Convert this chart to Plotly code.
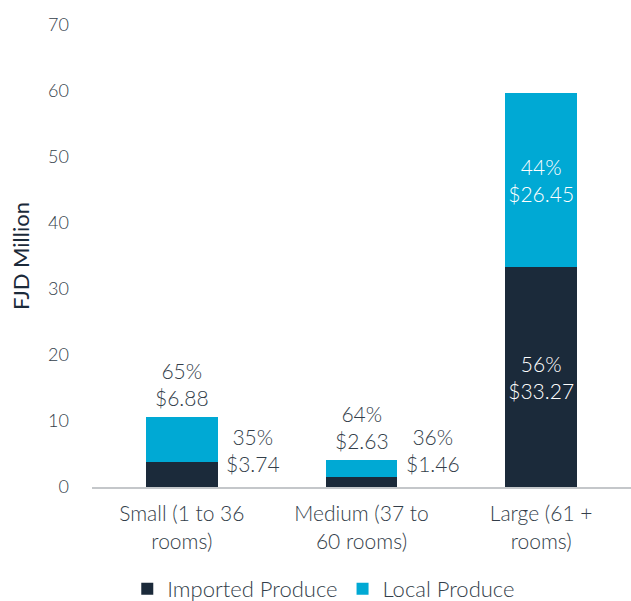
import plotly.graph_objects as go

categories = ["Small (1 to 36<br>rooms)", "Medium (37 to<br>60 rooms)", "Large (61 +<br>rooms)"]
imported = [3.74, 1.46, 33.27]
local = [6.88, 2.63, 26.45]
y_ticks = [0, 10, 20, 30, 40, 50, 60, 70]

DARK = "#1b2a3a"
CYAN = "#00a9d4"
TEXT = "#333e4a"
FONT = "Lato"
W = 300  # light weight

totals = [a + b for a, b in zip(imported, local)]
imp_pct = [round(a / t * 100) for a, t in zip(imported, totals)]
loc_pct = [round(b / t * 100) for b, t in zip(local, totals)]

def label(p, v):
    return f"{p}%<br>${v:.2f}"

# Only the large bar holds its labels inside; the smaller bars get annotations.
imp_text = ["", "", label(imp_pct[2], imported[2])]
loc_text = ["", "", label(loc_pct[2], local[2])]

inside_font = dict(color="white", size=21, family=FONT, weight=W)

fig = go.Figure()
fig.add_trace(go.Bar(
    x=categories, y=imported, name="Imported Produce",
    marker=dict(color=DARK, line=dict(width=0)),
    text=imp_text, textposition="inside", insidetextanchor="middle",
    textangle=0, insidetextfont=inside_font, hoverinfo="skip",
))
fig.add_trace(go.Bar(
    x=categories, y=local, name="Local Produce",
    marker=dict(color=CYAN, line=dict(width=0)),
    text=loc_text, textposition="inside", insidetextanchor="middle",
    textangle=0, insidetextfont=inside_font, hoverinfo="skip",
))

ann_font = dict(size=21, color=TEXT, family=FONT, weight=W)
for i in range(2):
    # local share above the bar
    fig.add_annotation(
        x=categories[i], y=totals[i], yanchor="bottom", yshift=5,
        text=label(loc_pct[i], local[i]), showarrow=False, font=ann_font,
    )
    # imported share to the right of the bar
    fig.add_annotation(
        x=categories[i], y=0, yanchor="bottom", yshift=9, xshift=71,
        text=label(imp_pct[i], imported[i]), showarrow=False, font=ann_font,
    )

fig.update_layout(
    barmode="stack",
    bargap=0.6,
    width=631, height=601,
    margin=dict(l=92, r=0, t=25, b=114, autoexpand=False),
    paper_bgcolor="white", plot_bgcolor="white",
    font=dict(family=FONT, color=TEXT, size=21, weight=W),
    showlegend=True,
    legend=dict(
        orientation="h", x=0.43, xanchor="center",
        yref="container", y=0.02, yanchor="middle",
        font=dict(size=22, color=TEXT, family=FONT, weight=W),
        traceorder="normal",
    ),
    xaxis=dict(
        showline=True, linecolor="#c4c7ca", linewidth=2,
        ticks="", ticklabelstandoff=7,
        tickfont=dict(size=21, color=TEXT, family=FONT, weight=W),
    ),
    yaxis=dict(
        range=[0, 70], tickvals=y_ticks, showgrid=False, zeroline=False,
        showline=False, ticks="", ticklabelstandoff=22,
        tickfont=dict(size=18, color=TEXT, family=FONT, weight=W),
        title=dict(text="FJD Million", font=dict(size=22, color=DARK, family=FONT, weight=400), standoff=12),
    ),
)

fig.write_html("out.html")
